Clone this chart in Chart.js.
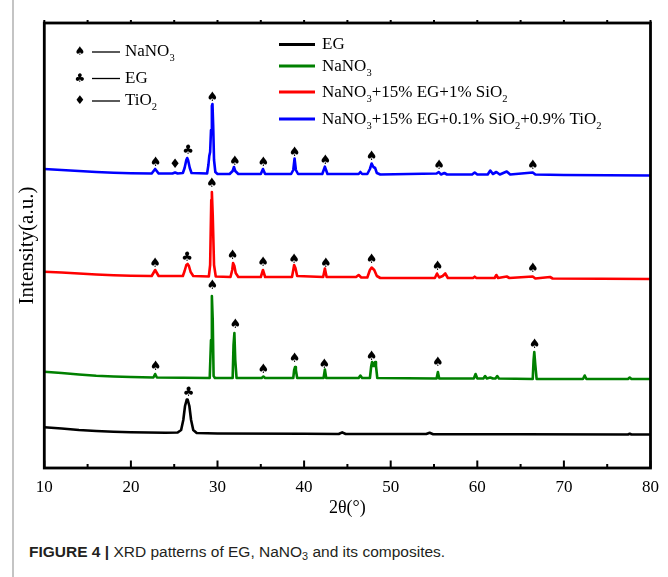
<!DOCTYPE html>
<html><head><meta charset="utf-8">
<script src="https://cdn.jsdelivr.net/npm/chart.js@4.4.1/dist/chart.umd.min.js"></script>
<style>
html,body{margin:0;padding:0;background:#fff;}
#wrap{position:relative;width:668px;height:577px;overflow:hidden;background:#fff;}
#c{position:absolute;left:0;top:0;}
#bar{position:absolute;left:12px;top:0;width:2px;height:577px;background:#c4c4c4;}
#cap{position:absolute;left:29px;top:543px;font-family:"Liberation Sans",Arial,sans-serif;font-size:15.5px;color:#231f20;white-space:nowrap;}
#cap b{font-weight:bold;}
#cap sub{font-size:0.7em;vertical-align:-0.25em;line-height:0;}
</style></head><body>
<div id="wrap"><div id="bar"></div><canvas id="c" width="668" height="530"></canvas>
<div id="cap"><b>FIGURE 4 |</b> XRD patterns of EG, NaNO<sub>3</sub> and its composites.</div></div>
<script>
// ---- data (2θ in degrees, intensity in arbitrary stacked units) ----
const xTickValues = [10, 20, 30, 40, 50, 60, 70, 80];
const seriesLabels = ["EG", "NaNO₃", "NaNO₃+15% EG+1% SiO₂", "NaNO₃+15% EG+0.1% SiO₂+0.9% TiO₂"];
const seriesColors = ["#000000", "#008000", "#ff0000", "#0000ff"];
const keyLabels = ["NaNO₃", "EG", "TiO₂"];
const keySymbols = ["♠", "♣", "♦"];

const egPattern = [[10,40.7],[12,39.5],[14,38],[16,37],[18,36.2],[20,35.7],[24,35.2],[25.4,35.5],[25.8,38],[26.05,48],[26.25,62],[26.45,68.5],[26.55,68.5],[26.75,62],[26.95,48],[27.2,38],[27.6,35],[30,34.5],[40,34.2],[44,34],[44.4,35.7],[44.8,34],[54.1,34],[54.5,35.2],[54.9,33.8],[65,33.7],[77.4,33.5],[77.6,34.3],[77.8,33.5],[80,33.5]];

const nano3Pattern = [[10,96.3],[12,95],[14,93.5],[16,92.3],[18,91.5],[20,91],[22.6,90.5],[22.8,94],[23.0,90.5],[29.1,90],[29.25,128],[29.35,172],[29.45,148],[29.55,92],[29.7,90],[31.75,90],[31.85,123],[31.95,135],[32.05,108],[32.2,90],[35.1,90],[35.3,91.5],[35.5,90],[38.75,90],[38.85,98],[38.95,101],[39.05,98],[39.2,90],[42.25,90],[42.4,98.5],[42.55,90],[46.3,90],[46.5,92.5],[46.7,90],[47.6,90],[47.75,102],[47.85,106],[47.97,102],[48.05,104],[48.2,106],[48.3,102],[48.45,90],[55.3,89.5],[55.45,96],[55.6,89.5],[59.6,89.5],[59.8,94],[60.0,89.5],[60.7,89.5],[60.9,92],[61.1,89.5],[61.5,90.5],[61.8,89.5],[62.1,89.5],[62.3,92],[62.5,89.5],[66.4,89],[66.5,108],[66.58,116],[66.7,103],[66.85,89],[72.2,89],[72.4,92.5],[72.6,89],[77.4,89],[77.6,90.5],[77.8,89],[80,89]];

const sio2CompositePattern = [[10,196.3],[12,195.5],[14,194.5],[16,193.5],[18,192.7],[20,192.2],[22.4,192],[22.8,198],[23.2,192],[26.0,192],[26.2,197],[26.4,203],[26.55,204],[26.7,202],[26.9,196],[27.2,192],[29.0,191.5],[29.15,203],[29.28,268],[29.35,276],[29.45,253],[29.6,203],[29.8,191.5],[31.5,191],[31.7,198],[31.8,205],[31.95,202],[32.1,195],[32.4,191],[35.0,191],[35.25,198],[35.5,191],[38.6,191],[38.75,198],[38.85,203],[39.0,200],[39.2,192],[42.2,191],[42.4,199.5],[42.6,191],[46.0,191],[46.3,193],[46.6,190.5],[47.3,190.5],[47.6,198],[47.8,200.5],[48.1,198],[48.4,192],[48.8,190],[55.1,190],[55.35,194.5],[55.6,190.5],[56.0,192],[56.3,194.5],[56.6,190],[59.5,190],[59.7,191.3],[59.9,190],[62.0,190],[62.2,193],[62.4,190],[63.4,191.5],[63.7,190],[66.4,191.5],[66.7,189.5],[68.4,191],[68.7,189.5],[80,189]];

const tio2CompositePattern = [[10,299],[12,298],[14,297],[16,296],[18,295.3],[20,294.8],[22.4,294.5],[22.8,299],[23.2,294.5],[24.8,294.5],[25.1,295.5],[25.4,294.5],[26.0,295],[26.2,300],[26.4,308],[26.5,310],[26.6,308],[26.8,300],[27.0,295],[28.8,294.5],[28.95,303],[29.05,312],[29.15,316],[29.25,338],[29.35,362],[29.42,364],[29.5,343],[29.6,308],[29.75,296],[30.0,294],[31.4,294],[31.75,297],[31.9,301],[32.05,297],[32.4,294],[35.0,294],[35.25,299],[35.5,294],[38.5,294],[38.75,298],[38.9,309.5],[39.05,298],[39.3,294],[42.1,294],[42.4,301.3],[42.7,294],[46.3,294],[46.5,296],[46.7,294],[47.3,294],[47.6,299],[47.8,304.5],[48.0,301],[48.2,300],[48.4,295],[48.8,293.5],[55.3,294.5],[55.55,296],[55.8,293.5],[56.2,295],[56.5,293.5],[59.4,293.5],[59.7,295.5],[60.0,293.5],[61.2,293.5],[61.5,297.5],[61.8,294],[62.2,296],[62.6,293.5],[63.4,296.5],[63.8,293.5],[66.4,295.5],[66.7,293.5],[70,293],[80,292.5]];

// peak annotations: [2θ, intensity]
const spadeMarks = [
  [22.85,305.7],[29.4,370.7],[32.0,306],[35.3,305],[38.9,315.3],[42.45,307.3],[47.8,311.3],[55.6,302.3],[66.4,302.3],
  [22.8,204],[29.35,284],[31.75,212],[35.26,205.3],[38.85,208.7],[42.5,204.7],[47.8,208],[55.4,201.3],[66.4,199.7],
  [22.85,101.3],[29.4,182],[32.05,143.7],[35.3,98.7],[38.9,109.7],[42.35,103],[47.8,111.3],[55.45,105.3],[66.6,123]
];
const clubMarks = [[26.6,317.3],[26.5,210],[26.65,75.3]];
const diamondMarks = [[25.1,303]];

// ---- helpers ----
const SUB = {'₀':'0','₁':'1','₂':'2','₃':'3','₄':'4','₅':'5','₆':'6','₇':'7','₈':'8','₉':'9'};
const SERIF = '"Liberation Serif","Times New Roman",serif';
function drawRich(ctx, text, x, y, size) {
  const runs = [];
  for (const ch of text) {
    const s = ch in SUB; const c = s ? SUB[ch] : ch;
    if (runs.length && runs[runs.length-1].sub === s) runs[runs.length-1].t += c;
    else runs.push({t: c, sub: s});
  }
  ctx.textAlign = 'left'; ctx.textBaseline = 'middle';
  for (const r of runs) {
    const fs = r.sub ? size * 0.62 : size;
    ctx.font = fs + 'px ' + SERIF;
    ctx.fillText(r.t, x, y + (r.sub ? size * 0.38 : 0));
    x += ctx.measureText(r.t).width;
  }
}
const toXY = arr => arr.map(p => ({x: p[0], y: p[1]}));

const framePlugin = {
  id: 'frame',
  afterDatasetsDraw(chart) {
    const {ctx, chartArea: a, scales: {x, y}} = chart;
    ctx.save();
    ctx.strokeStyle = '#000'; ctx.lineWidth = 2.8;
    ctx.strokeRect(a.left, a.top, a.right - a.left, a.bottom - a.top);
    ctx.lineWidth = 2;
    for (let i = 0; i < xTickValues.length; i++) {
      const v = xTickValues[i];
      const vals = [v]; if (i < xTickValues.length - 1) vals.push((v + xTickValues[i+1]) / 2);
      vals.forEach((t, k) => {
        const px = x.getPixelForValue(t);
        ctx.beginPath(); ctx.moveTo(px, a.bottom); ctx.lineTo(px, a.bottom - (k === 0 ? 7.5 : 4)); ctx.stroke();
        ctx.beginPath(); ctx.moveTo(px, a.top); ctx.lineTo(px, a.top - 3); ctx.stroke();
      });
    }
    // peak symbols
    ctx.fillStyle = '#000'; ctx.textAlign = 'center'; ctx.textBaseline = 'middle';
    const drawMarks = (list, sym, size) => {
      ctx.font = size + 'px "DejaVu Sans",sans-serif';
      list.forEach(p => ctx.fillText(sym, x.getPixelForValue(p[0]), y.getPixelForValue(p[1])));
    };
    drawMarks(spadeMarks, '♠', 13);
    drawMarks(clubMarks, '♣', 13);
    drawMarks(diamondMarks, '♦', 13);
    // symbol key (top-left)
    const keyRows = [52, 78.5, 101];
    keyRows.forEach((ry, i) => {
      ctx.font = '12px "DejaVu Sans",sans-serif'; ctx.textAlign = 'center';
      ctx.fillText(keySymbols[i], 80, ry);
      ctx.lineWidth = 1.3; ctx.beginPath(); ctx.moveTo(92, ry); ctx.lineTo(120, ry); ctx.stroke();
      drawRich(ctx, keyLabels[i], 125, ry, 17);
    });
    // series legend (top-right)
    const legRows = [44.5, 66, 92, 119];
    legRows.forEach((ry, i) => {
      ctx.strokeStyle = seriesColors[i]; ctx.lineWidth = 3;
      ctx.beginPath(); ctx.moveTo(279, ry); ctx.lineTo(315, ry); ctx.stroke();
      ctx.fillStyle = '#000';
      drawRich(ctx, seriesLabels[i], 322, ry + 0.5, 17);
    });
    ctx.restore();
  }
};

const patterns = [egPattern, nano3Pattern, sio2CompositePattern, tio2CompositePattern];
new Chart(document.getElementById('c'), {
  type: 'line',
  data: {
    datasets: patterns.map((p, i) => ({
      label: seriesLabels[i], data: toXY(p), borderColor: seriesColors[i],
      borderWidth: 2.6, pointRadius: 0, tension: 0, fill: false, borderJoinStyle: 'round'
    }))
  },
  options: {
    responsive: false, devicePixelRatio: 1, animation: false,
    layout: {padding: {left: 15, right: 17, top: 23, bottom: 11}},
    plugins: {legend: {display: false}, tooltip: {enabled: false}},
    scales: {
      x: {
        type: 'linear', min: 10, max: 80,
        grid: {display: false, drawTicks: false}, border: {display: false},
        ticks: {stepSize: 10, padding: 9, color: '#000', font: {family: SERIF, size: 17}},
        afterBuildTicks: s => { s.ticks = xTickValues.map(v => ({value: v})); },
        afterFit: s => { s.height = 51; },
        title: {display: true, text: '2θ(°)', color: '#000', font: {family: SERIF, size: 18}, padding: {top: 0, bottom: 0}}
      },
      y: {
        min: 0, max: 445,
        grid: {display: false, drawTicks: false}, border: {display: false},
        ticks: {display: false, padding: 0},
        afterFit: s => { s.width = 29.3; },
        title: {display: true, text: 'Intensity(a.u.)', color: '#000', font: {family: SERIF, size: 21}, padding: {top: 0, bottom: 4}}
      }
    }
  },
  plugins: [framePlugin]
});
</script>
</body></html>
